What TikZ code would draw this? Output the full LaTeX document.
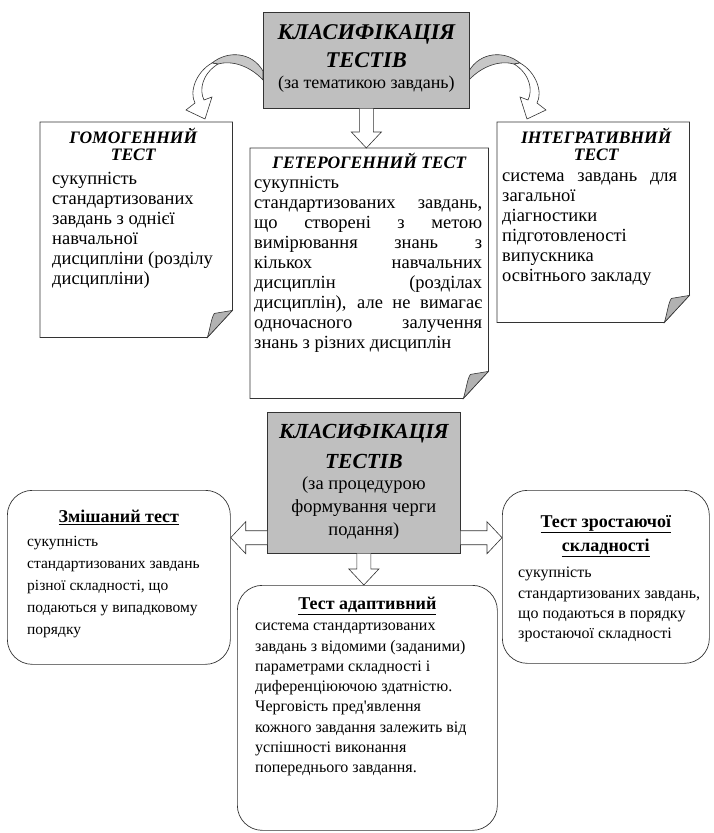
\documentclass[tikz,border=0pt]{standalone}
\usepackage{fontspec}
\setmainfont{Liberation Serif}
\usetikzlibrary{calc,positioning}
\tikzset{
  >=latex,
  curl/.pic={
    \draw[curlback] (0,20) .. controls (-13,6) and (-31,0) .. (-45,4) -- (-51,3)
      .. controls (-35,-10) and (-11,-8) .. (0,11) -- cycle;
    \draw[fat] (-51,3) .. controls (-67,12) and (-74,32) .. (-68,43) -- (-77,50) -- (-58,59)
      -- (-51,37) -- (-59,40) .. controls (-64,30) and (-61,14) .. (-45,4) -- cycle;
  },
}
\tikzstyle{paper}=[draw=black!80,fill=white,line width=.7pt]
\tikzstyle{fold}=[draw=black!80,fill=black!30,line width=.6pt]
\tikzstyle{graybox}=[draw=black!80,fill=black!25,line width=.7pt,inner sep=0pt]
\tikzstyle{roundbox}=[draw=black!80,rounded corners=25pt,line width=.7pt,inner sep=0pt]
\tikzstyle{fat}=[draw=black!80,fill=white,line width=.6pt]
\tikzstyle{curlback}=[draw=black!80,fill=black!22,line width=.6pt]
\tikzstyle{frame}=[inner sep=0pt,anchor=north west]
\tikzstyle{bigttl}=[font=\fontsize{22.5}{28}\selectfont\bfseries\itshape,align=center,inner sep=0pt]
\tikzstyle{sub}=[font=\fontsize{18}{23}\selectfont,align=center,inner sep=0pt]
\tikzstyle{ttl}=[font=\fontsize{17.5}{17}\selectfont\bfseries\itshape,align=center,inner sep=0pt]
\tikzstyle{body}=[font=\fontsize{18.5}{20}\selectfont,align=left,inner sep=0pt]
\tikzstyle{uttl}=[font=\fontsize{18}{24}\selectfont\bfseries,align=center,inner sep=0pt]
\tikzstyle{sbody}=[font=\fontsize{16}{20.3}\selectfont,align=left,inner sep=0pt]

% justified line of given width
\newcommand{\jline}[2]{\makebox[#1][s]{#2}}
% sheet with a curled corner round an empty node
\newcommand{\paperbox}[1]{%
  \draw[paper] (#1.north west) -- (#1.north east) -- ($(#1.south east)+(0,-27)$)
    -- ($(#1.south east)+(-25,0)$) -- (#1.south west) -- cycle;
  \draw[fold] ($(#1.south east)+(-25,0)$) .. controls ($(#1.south east)+(-22,-10)$)
    and ($(#1.south east)+(-21,-20)$) .. ($(#1.south east)+(-18,-24)$)
    .. controls ($(#1.south east)+(-12,-25)$) .. ($(#1.south east)+(0,-27)$) -- cycle;
}
% hollow arrow downwards
\newcommand{\fatdown}[2]{%
  \draw[fat] ($(#1.south)+(-7,0)$) -- ($(#1.south |- #2.north)+(-7,-16)$) -- ++(-8,0)
    -- (#1.south |- #2.north) -- ++(15,-16) -- ++(-8,0) -- ($(#1.south)+(7,0)$);
}
% hollow arrow sideways
\newcommand{\fatside}[3]{%
  \draw[fat] ($(#1)+(0,-7)$) -- ($(#2 |- #1)+(#3,-7)$) -- ++(0,-9)
    -- (#2 |- #1) -- ++(#3,16) -- ++(0,-9) -- ($(#1)+(0,7)$);
}

\begin{document}
\begin{tikzpicture}[x=1pt,y=-1pt]
  \useasboundingbox (0,0) rectangle (714,833);

  % by subject of the tasks
  \pic at (263,60) {curl};
  \pic[xscale=-1] at (469,60) {curl};
  \node[graybox,frame,minimum width=206pt,minimum height=96pt] (top) at (263,12) {};
  \node[bigttl,anchor=north] (topttl) at ($(top.north)+(0,12)$) {КЛАСИФІКАЦІЯ\\ТЕСТІВ};
  \node[sub,below=8pt of topttl] (topsub) {(за тематикою завдань)};

  \node[frame,minimum width=192pt,minimum height=215pt] (homo) at (40,122) {};
  \paperbox{homo}
  \node[ttl,anchor=north] (homottl) at ($(homo.north)+(-3,6)$) {ГОМОГЕННИЙ\\ТЕСТ};
  \node[body,anchor=north west] (homotxt) at ($(homo.north west)+(12,50)$)
    {сукупність\\стандартизованих\\завдань з однієї\\навчальної\\дисципліни (розділу\\дисципліни)};

  \node[frame,minimum width=238pt,minimum height=250pt] (het) at (250,148) {};
  \paperbox{het}
  \node[ttl,anchor=north] (hetttl) at ($(het.north)+(0,5)$) {ГЕТЕРОГЕННИЙ ТЕСТ};
  \node[body,anchor=north west] (hettxt) at ($(het.north west)+(4,28)$)
    {сукупність\\\jline{228pt}{стандартизованих завдань,}\\\jline{228pt}{що створені з метою}\\
     \jline{228pt}{вимірювання знань з}\\\jline{228pt}{кількох навчальних}\\
     \jline{228pt}{дисциплін (розділах}\\\jline{228pt}{дисциплін), але не вимагає}\\
     \jline{228pt}{одночасного залучення}\\знань з різних дисциплін};

  \node[frame,minimum width=192pt,minimum height=200pt] (integ) at (497,122) {};
  \paperbox{integ}
  \node[ttl,anchor=north] (intttl) at ($(integ.north)+(3,6)$) {ІНТЕГРАТИВНИЙ\\ТЕСТ};
  \node[body,anchor=north west] (inttxt) at ($(integ.north west)+(5,51)$)
    {\jline{175pt}{система завдань для}\\загальної\\діагностики\\підготовленості\\випускника\\освітнього закладу};

  \fatdown{top}{het}

  % by procedure of the order
  \node[graybox,frame,minimum width=193pt,minimum height=141pt] (bot) at (267,412) {};
  \node[bigttl,font=\fontsize{21.5}{30}\selectfont\bfseries\itshape,anchor=north] (botttl)
    at ($(bot.north)+(0,12)$) {КЛАСИФІКАЦІЯ\\ТЕСТІВ};
  \node[sub,font=\fontsize{18.5}{23}\selectfont,below=8pt of botttl] (botsub)
    {(за процедурою\\формування черги\\подання)};

  \node[roundbox,frame,minimum width=223pt,minimum height=174pt] (mix) at (7,490) {};
  \node[uttl,anchor=north] (mixttl) at ($(mix.north)+(0,20)$) {\underline{Змішаний тест}};
  \node[sbody,font=\fontsize{15.5}{22}\selectfont,anchor=north west] (mixtxt) at ($(mix.north west)+(20,46)$)
    {сукупність\\стандартизованих завдань\\різної складності, що\\подаються у випадковому\\порядку};

  \node[roundbox,frame,minimum width=207pt,minimum height=173pt] (grow) at (502,490) {};
  \node[uttl,anchor=north] (growttl) at ($(grow.north)+(0,25)$)
    {\underline{Тест зростаючої}\\\underline{складності}};
  \node[sbody,anchor=north west] (growtxt) at ($(grow.north west)+(16,77)$)
    {сукупність\\стандартизованих завдань,\\що подаються в порядку\\зростаючої складності};

  \node[roundbox,frame,minimum width=260pt,minimum height=245pt] (adap) at (237,585) {};
  \node[uttl,anchor=north] (adapttl) at ($(adap.north)+(0,12)$) {\underline{Тест адаптивний}};
  \node[sbody,anchor=north west] (adaptxt) at ($(adap.north west)+(18,38)$)
    {система стандартизованих\\завдань з відомими (заданими)\\параметрами складності і\\
     диференціюючою здатністю.\\Черговість пред\textquotesingle явлення\\кожного завдання залежить від\\
     успішності виконання\\попереднього завдання.};

  \coordinate (bl) at ($(bot.south west)+(0,-16)$);
  \coordinate (br) at ($(bot.south east)+(0,-16)$);
  \fatside{bl}{mix.east}{15}
  \fatside{br}{grow.west}{-15}
  \fatdown{bot}{adap}
\end{tikzpicture}
\end{document}
